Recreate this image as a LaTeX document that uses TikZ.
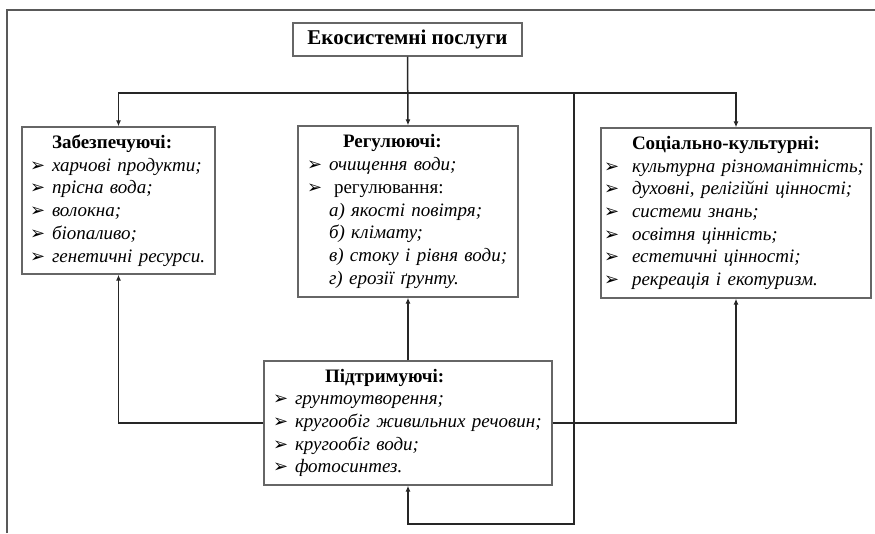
\documentclass[tikz,border=0pt]{standalone}
\usepackage{fontspec}
\setmainfont{Liberation Serif}
\newfontfamily\symfont{DejaVu Sans}
\usetikzlibrary{arrows.meta}
\newcommand{\bul}{{\symfont\bfseries\fontsize{18}{18}\selectfont ➢}}
\newcommand{\itm}[2][22pt]{\makebox[#1][l]{\bul}\textit{#2}}

\begin{document}
\begin{tikzpicture}[x=1pt,y=-1pt,
  box/.style={draw=black!60,line width=1.3pt,fill=white,inner xsep=8pt,inner ysep=0pt,align=left,font=\fontsize{19}{22.7}\selectfont},
  conn/.style={draw=black!85,line width=1.5pt},
  tip/.style={conn,-{Latex[length=6pt,width=5pt]}}]
   \useasboundingbox (0,0) rectangle (875,533);
   \draw[black!65,line width=1.5pt] (7,533) -- (7,10) -- (875,10);
   \node[box,align=center,inner xsep=0pt,minimum width=229,minimum height=33,font=\fontsize{21}{24}\selectfont] (eco) at (407.5,39.5) {\textbf{Екосистемні послуги}};
   \node[box,text width=177pt,minimum height=147] (prov) at (118.5,200.5) {%
     \hspace*{22pt}\textbf{Забезпечуючі:}\\
     \itm{харчові продукти;}\\
     \itm{прісна вода;}\\
     \itm{волокна;}\\
     \itm{біопаливо;}\\
     \itm{генетичні ресурси.}};
   \node[box,inner xsep=9pt,text width=202pt,minimum height=171] (reg) at (408,211.5) {%
     \hspace*{36pt}\textbf{Регулюючі:}\\
     \itm{очищення води;}\\
     \makebox[22pt][l]{\bul}\hspace*{5pt}регулювання:\\
     \hspace*{22pt}\textit{а) якості повітря;}\\
     \hspace*{22pt}\textit{б) клімату;}\\
     \hspace*{22pt}\textit{в) стоку і рівня води;}\\
     \hspace*{22pt}\textit{г) ерозії ґрунту.}};
   \node[box,inner xsep=3pt,text width=264pt,minimum height=170] (soc) at (736,213) {%
     \hspace*{28pt}\textbf{Соціально-культурні:}\\
     \itm[28pt]{культурна різноманітність;}\\
     \itm[28pt]{духовні, релігійні цінності;}\\
     \itm[28pt]{системи знань;}\\
     \itm[28pt]{освітня цінність;}\\
     \itm[28pt]{естетичні цінності;}\\
     \itm[28pt]{рекреація і екотуризм.}};
   \node[box,inner xsep=9pt,text width=270pt,minimum height=124] (sup) at (408,423) {%
     \hspace*{52pt}\textbf{Підтримуючі:}\\
     \itm{грунтоутворення;}\\
     \itm{кругообіг живильних речовин;}\\
     \itm{кругообіг води;}\\
     \itm{фотосинтез.}};
   \coordinate (busR) at (574,93);
   \coordinate (loop) at (574,524);
   \draw[tip] (eco.south) -- (reg.north);
   \draw[tip] (eco.south |- busR) -| (prov.north);
   \draw[tip] (eco.south |- busR) -| (soc.north);
   \draw[tip] (busR) -- (loop) -| (sup.south);
   \draw[tip] (sup.north) -- (reg.south);
   \draw[tip] (sup.west) -| (prov.south);
   \draw[tip] (sup.east) -| (soc.south);
\end{tikzpicture}
\end{document}
